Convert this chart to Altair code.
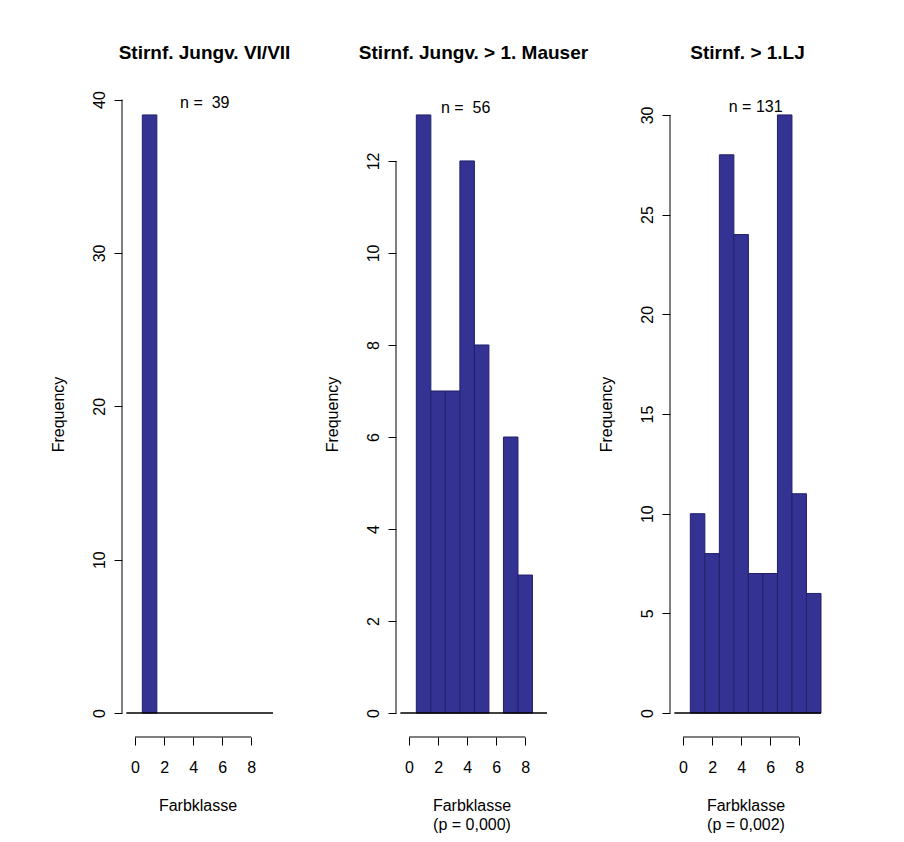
import altair as alt
import pandas as pd

# ---- data ----
classes = [1, 2, 3, 4, 5, 6, 7, 8, 9]
counts_1 = [39, 0, 0, 0, 0, 0, 0, 0, 0]
counts_2 = [13, 7, 7, 12, 8, 0, 6, 3, 0]
counts_3 = [10, 8, 28, 24, 7, 7, 30, 11, 6]
all_counts = [counts_1, counts_2, counts_3]

titles = ["Stirnf. Jungv. VI/VII", "Stirnf. Jungv. > 1. Mauser", "Stirnf. > 1.LJ"]
x_titles = [["Farbklasse"], ["Farbklasse", "(p = 0,000)"], ["Farbklasse", "(p = 0,002)"]]
y_ticks = [[0, 10, 20, 30, 40], [0, 2, 4, 6, 8, 10, 12], [0, 5, 10, 15, 20, 25, 30]]
x_ticks = [0, 2, 4, 6, 8]
n_labels = ["n = \u00a039", "n = \u00a056", "n = 131"]
n_x = [4.8, 3.9, 5.0]
n_y = [39.8, 13.15, 30.4]
title_dx = [7, 2, 2]

FONT = "Liberation Sans"
FILL = "#343292"
EDGE = "#22206a"
W, H = 151, 646


def panel(i):
    counts = all_counts[i]
    ymax = max(counts)
    xs = alt.Scale(domain=[-0.9, 9.5], nice=False, zero=False)
    ys = alt.Scale(domain=[-0.04 * ymax, 1.04 * ymax], nice=False, zero=False)

    bars_df = pd.DataFrame({
        "lo": [c - 0.5 for c in classes],
        "hi": [c + 0.5 for c in classes],
        "count": counts,
        "zero": [0] * len(classes),
    })
    bars_df = bars_df[bars_df["count"] > 0]

    x_axis = alt.Axis(
        values=x_ticks, tickCount=5, tickSize=8, labelPadding=14, labelFontSize=16,
        labelAngle=0, labelFlush=False, labelOverlap=False, title=x_titles[i],
        titleFontSize=16, titleFontWeight="normal", titleLineHeight=19,
        titleBaseline="top", titleX=W / 2, titleY=60, titleAlign="center",
        domain=False, grid=False)
    y_axis = alt.Axis(
        values=y_ticks[i], tickSize=8, labelAngle=270, labelAlign="center",
        labelBaseline="bottom", labelPadding=7, labelFontSize=16,
        labelFlush=False, labelOverlap=False, title="Frequency",
        titleFontSize=16, titleFontWeight="normal", titleAngle=270,
        titleX=-64, titleY=H / 2, titleAlign="center", titleBaseline="middle",
        domain=False, grid=False)

    def X(field):
        return alt.X(field, scale=xs, axis=x_axis)

    def Y(field):
        return alt.Y(field, scale=ys, axis=y_axis)

    bars = alt.Chart(bars_df).mark_rect(fill=FILL, stroke=EDGE, strokeWidth=1).encode(
        x=X("lo:Q"), x2="hi:Q", y=Y("count:Q"), y2="zero:Q",
    )

    yrule = alt.Chart(pd.DataFrame({"a": [0], "b": [y_ticks[i][-1]]})).mark_rule(
        color="black", strokeWidth=1).encode(
        x=alt.value(0), y=Y("a:Q"), y2="b:Q")

    xrule = alt.Chart(pd.DataFrame({"a": [x_ticks[0]], "b": [x_ticks[-1]]})).mark_rule(
        color="black", strokeWidth=1).encode(
        x=X("a:Q"), x2="b:Q", y=alt.value(H))

    base = alt.Chart(pd.DataFrame({"a": [-0.6], "b": [9.5], "z": [0]})).mark_rule(
        color="black", strokeWidth=1.5).encode(
        x=X("a:Q"), x2="b:Q", y=Y("z:Q"))

    ntext = alt.Chart(pd.DataFrame({"t": [n_labels[i]], "x": [n_x[i]], "y": [n_y[i]]})).mark_text(
        font=FONT, fontSize=16, color="black", align="center", baseline="middle").encode(
        x=X("x:Q"), y=Y("y:Q"), text="t:N")

    return alt.layer(bars, base, yrule, xrule, ntext).properties(
        width=W, height=H,
        title=alt.TitleParams(titles[i], font=FONT, fontSize=19, fontWeight="bold",
                              anchor="middle", frame="group", offset=28, color="black",
                              dx=title_dx[i]),
    )


chart = alt.hconcat(panel(0), panel(1), panel(2), spacing=123, bounds="flush").properties(
    padding={"left": 42, "top": 35, "right": 5, "bottom": 5},
    background="white",
).configure_view(stroke=None).configure_axis(
    labelFont=FONT, titleFont=FONT, labelColor="black", titleColor="black",
    tickColor="black", tickWidth=1,
)

chart.save("out.html", embed_options={"renderer": "svg", "actions": False})
